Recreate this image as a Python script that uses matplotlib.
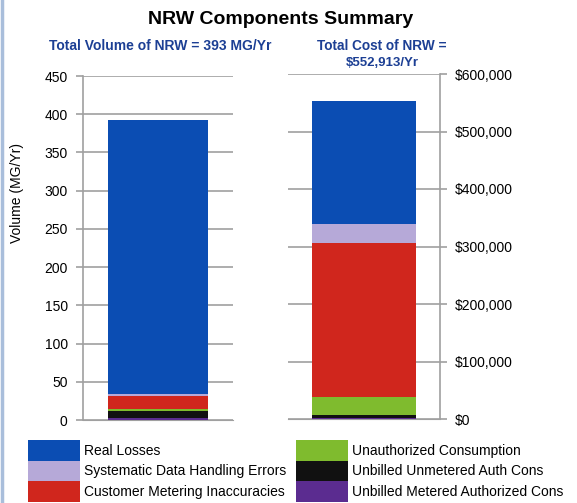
import matplotlib.pyplot as plt
from matplotlib.lines import Line2D
from matplotlib.patches import Patch
from matplotlib.ticker import FuncFormatter

# stacking order bottom -> top
components = ['Unbilled Metered Authorized Cons', 'Unbilled Unmetered Auth Cons',
              'Unauthorized Consumption', 'Customer Metering Inaccuracies',
              'Systematic Data Handling Errors', 'Real Losses']
colors = ['#5b2c90', '#111111', '#7fbb2e', '#d0261d', '#b6a9d8', '#0b4db3']
volume = [2, 10, 2, 17, 3, 359]                      # MG/Yr
cost = [1500, 5500, 31000, 268000, 33000, 213913]    # $/Yr

vol_ticks = list(range(0, 451, 50))
cost_ticks = list(range(0, 600001, 100000))

# legend order as in the picture (two columns)
legend_order = ['Real Losses', 'Systematic Data Handling Errors', 'Customer Metering Inaccuracies',
                'Unauthorized Consumption', 'Unbilled Unmetered Auth Cons', 'Unbilled Metered Authorized Cons']

plt.rcParams['font.family'] = ['Liberation Sans', 'DejaVu Sans']

fig = plt.figure(figsize=(5.77, 5.03), dpi=100)
grid_c = '#a0a0a0'


def stack(ax, vals, width):
    bottom = 0
    for v, c in zip(vals, colors):
        ax.bar(0, v, width=width, bottom=bottom, color=c, edgecolor='none', zorder=3)
        bottom += v


def style(ax, ticks):
    ax.set_xlim(-0.5, 0.5)
    ax.set_ylim(ticks[0], ticks[-1])
    ax.set_yticks(ticks)
    ax.set_xticks([])
    ax.grid(axis='y', color=grid_c, linewidth=1.2, zorder=0)
    for s in ax.spines.values():
        s.set_visible(False)
    ax.spines['bottom'].set_visible(True)
    ax.spines['bottom'].set_color(grid_c)
    ax.tick_params(axis='y', length=5, color=grid_c, width=1.2, labelsize=10, pad=6)


# left: volume
ax1 = fig.add_axes([83 / 577, 83 / 503, 150 / 577, 344 / 503])
stack(ax1, volume, 0.673)
style(ax1, vol_ticks)
ax1.spines['left'].set_visible(True)
ax1.spines['left'].set_color(grid_c)
ax1.spines['left'].set_linewidth(1.2)
fig.text(17 / 577, 1 - 193 / 503, 'Volume (MG/Yr)', rotation=90, ha='center', va='center', fontsize=10)

# right: cost
ax2 = fig.add_axes([288 / 577, 84 / 503, 152 / 577, 345 / 503])
stack(ax2, cost, 0.678)
style(ax2, cost_ticks)
ax2.yaxis.tick_right()
ax2.spines['right'].set_visible(True)
ax2.spines['right'].set_color(grid_c)
ax2.spines['right'].set_linewidth(1.2)
ax2.yaxis.set_major_formatter(FuncFormatter(lambda v, p: '${:,.0f}'.format(v)))

# titles
fig.text(281 / 577, 1 - 20 / 503, 'NRW Components Summary', ha='center', va='center',
         fontsize=14, fontweight='bold')
sub_c = '#1c3f94'
fig.text(160 / 577, 1 - 46 / 503, 'Total Volume of NRW = 393 MG/Yr', ha='center', va='center',
         fontsize=10, fontweight='bold', color=sub_c)
fig.text(382 / 577, 1 - 46 / 503, 'Total Cost of NRW =', ha='center', va='center',
         fontsize=9.8, fontweight='bold', color=sub_c)
fig.text(382 / 577, 1 - 63 / 503, '$552,913/Yr', ha='center', va='center',
         fontsize=9.5, fontweight='bold', color=sub_c)

# legend
handles = [Patch(facecolor=colors[components.index(n)], edgecolor='none') for n in legend_order]
leg = fig.legend(handles, legend_order, ncol=2, loc='upper left',
                 bbox_to_anchor=(28 / 577, 1 - 440 / 503),
                 frameon=False, handlelength=3.75, handleheight=1.9, handletextpad=0.3,
                 labelspacing=0.0, columnspacing=0.7, borderpad=0.0, borderaxespad=0.0,
                 prop={'size': 10})

# window frame edge at the left of the screenshot
fig.add_artist(Line2D([2 / 577, 2 / 577], [0, 1], color='#a9bedb', linewidth=2.5))

fig.savefig('out.png', dpi=100)
